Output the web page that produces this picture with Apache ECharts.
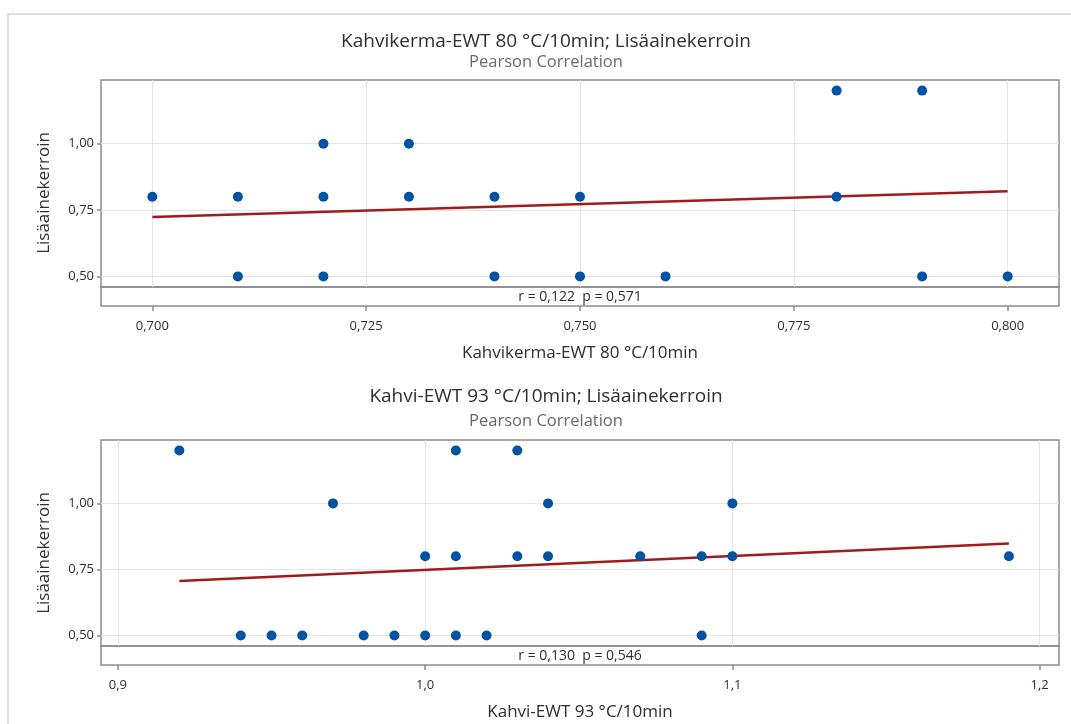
<!DOCTYPE html>
<html>
<head>
<meta charset="utf-8">
<script src="https://cdn.jsdelivr.net/npm/echarts@6/dist/echarts.min.js"></script>
<style>
html,body{margin:0;padding:0;background:#fff;}
#c{width:1071px;height:724px;}
</style>
</head>
<body>
<div id="c"></div>
<script>
// ---- Panel 1: Kahvikerma-EWT 80 °C/10min vs Lisäainekerroin ----
const topTitle = 'Kahvikerma-EWT 80 °C/10min; Lisäainekerroin';
const topXName = 'Kahvikerma-EWT 80 °C/10min';
const topStat = 'r = 0,122  p = 0,571';
const topX = [0.700, 0.710, 0.710, 0.720, 0.720, 0.720, 0.730, 0.730, 0.740, 0.740, 0.750, 0.750, 0.760, 0.780, 0.780, 0.790, 0.790, 0.800];
const topY = [0.80, 0.80, 0.50, 1.00, 0.80, 0.50, 1.00, 0.80, 0.80, 0.50, 0.80, 0.50, 0.50, 1.20, 0.80, 1.20, 0.50, 0.50];
const topFitX = [0.700, 0.800];
const topFitY = [0.724, 0.821];
const topXTicks = [0.700, 0.725, 0.750, 0.775, 0.800];

// ---- Panel 2: Kahvi-EWT 93 °C/10min vs Lisäainekerroin ----
const botTitle = 'Kahvi-EWT 93 °C/10min; Lisäainekerroin';
const botXName = 'Kahvi-EWT 93 °C/10min';
const botStat = 'r = 0,130  p = 0,546';
const botX = [0.92, 0.97, 0.94, 0.95, 0.96, 0.98, 0.99, 1.00, 1.00, 1.01, 1.01, 1.01, 1.02, 1.03, 1.03, 1.04, 1.04, 1.07, 1.09, 1.09, 1.10, 1.10, 1.19];
const botY = [1.20, 1.00, 0.50, 0.50, 0.50, 0.50, 0.50, 0.50, 0.80, 1.20, 0.80, 0.50, 0.50, 1.20, 0.80, 1.00, 0.80, 0.80, 0.80, 0.50, 1.00, 0.80, 0.80];
const botFitX = [0.92, 1.19];
const botFitY = [0.706, 0.848];
const botXTicks = [0.9, 1.0, 1.1, 1.2];

const yName = 'Lisäainekerroin';
const subTitle = 'Pearson Correlation';
const yTicks = [0.50, 0.75, 1.00];

const FONT = "'Segoe UI','Open Sans','Noto Sans',sans-serif";
const BORDER = '#8c8c8c';
const GRIDC = '#e4e4e4';
const DOT = '#0052a3';
const FIT = '#a01c1c';
const TXT = '#2e2e2e';

const pairs = (xs, ys) => xs.map((x, i) => [x, ys[i]]);
const comma = d => v => Number(v).toFixed(d).replace('.', ',');

function dataX(gi, min, max, ticks) {
  return {
    type: 'value', gridIndex: gi, min: min, max: max,
    axisLine: {show: false},
    axisTick: {show: false, customValues: ticks},
    axisLabel: {show: false, customValues: ticks},
    splitLine: {show: true, lineStyle: {color: GRIDC, width: 1}}
  };
}
function stripX(gi, min, max, ticks, dec, name) {
  return {
    type: 'value', gridIndex: gi, min: min, max: max,
    axisLine: {show: false},
    axisTick: {show: true, inside: false, length: 5, customValues: ticks, lineStyle: {color: BORDER, width: 1.5}},
    axisLabel: {show: true, customValues: ticks, formatter: comma(dec), color: TXT, fontSize: 13, fontFamily: FONT, margin: 14},
    splitLine: {show: false},
    name: name, nameLocation: 'middle', nameGap: 39,
    nameTextStyle: {color: TXT, fontSize: 17, fontFamily: FONT}
  };
}
function dataY(gi) {
  return {
    type: 'value', gridIndex: gi, min: 0.46, max: 1.24,
    axisLine: {show: false},
    axisTick: {show: true, inside: false, length: 4, customValues: yTicks, lineStyle: {color: BORDER, width: 1.5}},
    axisLabel: {show: true, customValues: yTicks, formatter: comma(2), color: TXT, fontSize: 13, fontFamily: FONT, margin: 7},
    splitLine: {show: true, lineStyle: {color: GRIDC, width: 1}}
  };
}
function stripY(gi) {
  return {type: 'value', gridIndex: gi, min: 0, max: 1, show: false};
}
const gridBase = {left: 101, right: 12, show: true, borderColor: BORDER, borderWidth: 1.5, backgroundColor: 'transparent'};

function txt(x, y, text, size, color, rot) {
  return {
    type: 'text', x: x, y: y, rotation: rot || 0, z: 10,
    style: {text: text, fill: color, font: size + 'px ' + FONT, textAlign: 'center', textVerticalAlign: 'middle'}
  };
}

const option = {
  backgroundColor: '#ffffff',
  animation: false,
  grid: [
    Object.assign({top: 80, height: 207}, gridBase),
    Object.assign({top: 287, height: 19}, gridBase),
    Object.assign({top: 440, height: 206}, gridBase),
    Object.assign({top: 646, height: 19}, gridBase)
  ],
  xAxis: [
    dataX(0, 0.694, 0.806, topXTicks),
    stripX(1, 0.694, 0.806, topXTicks, 3, topXName),
    dataX(2, 0.8945, 1.2063, botXTicks),
    stripX(3, 0.8945, 1.2063, botXTicks, 1, botXName)
  ],
  yAxis: [dataY(0), stripY(1), dataY(2), stripY(3)],
  series: [
    {type: 'line', xAxisIndex: 0, yAxisIndex: 0, data: pairs(topFitX, topFitY), symbol: 'none', z: 2,
     lineStyle: {color: FIT, width: 2.5}},
    {type: 'scatter', xAxisIndex: 0, yAxisIndex: 0, data: pairs(topX, topY), symbol: 'circle', symbolSize: 10, z: 3,
     itemStyle: {color: DOT, opacity: 1}},
    {type: 'line', xAxisIndex: 2, yAxisIndex: 2, data: pairs(botFitX, botFitY), symbol: 'none', z: 2,
     lineStyle: {color: FIT, width: 2.5}},
    {type: 'scatter', xAxisIndex: 2, yAxisIndex: 2, data: pairs(botX, botY), symbol: 'circle', symbolSize: 10, z: 3,
     itemStyle: {color: DOT, opacity: 1}}
  ],
  graphic: [
    {type: 'rect', shape: {x: 8, y: 14, width: 1100, height: 760}, style: {fill: 'none', stroke: '#d2d2d2', lineWidth: 1.5}, z: 0},
    txt(546, 42, topTitle, 19, TXT),
    txt(546, 62, subTitle, 16.5, '#6a6a6a'),
    txt(580, 297, topStat, 14, TXT),
    txt(44, 193, yName, 17, TXT, Math.PI / 2),
    txt(546, 397, botTitle, 19, TXT),
    txt(546, 421, subTitle, 16.5, '#6a6a6a'),
    txt(580, 656, botStat, 14, TXT),
    txt(44, 553, yName, 17, TXT, Math.PI / 2)
  ]
};

const chart = echarts.init(document.getElementById('c'), null, {renderer: 'canvas'});
chart.setOption(option);
</script>
</body>
</html>
